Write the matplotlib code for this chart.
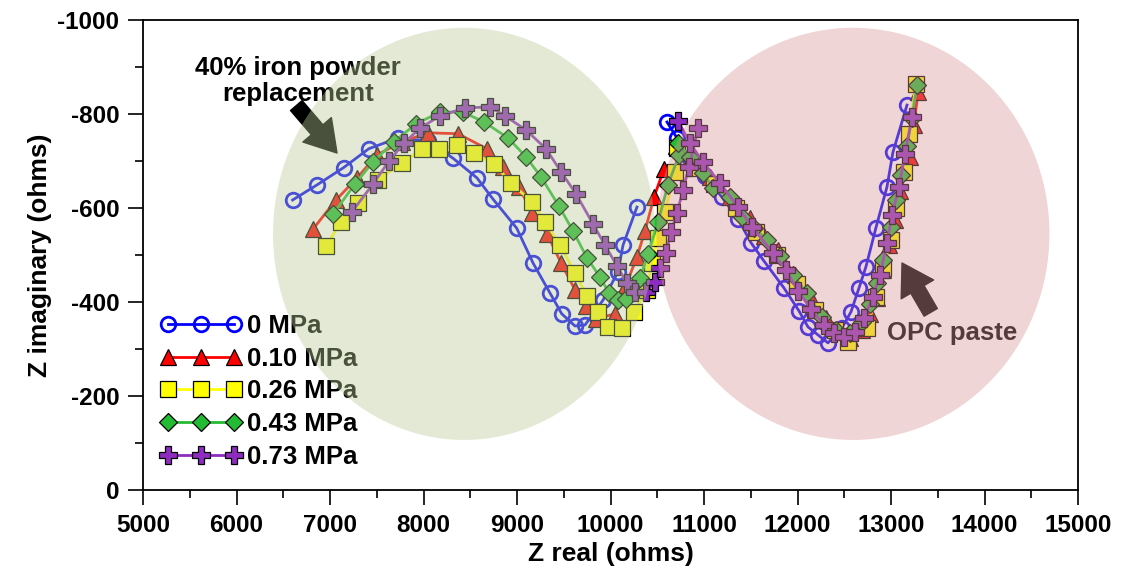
import matplotlib
matplotlib.use('Agg')
import matplotlib.pyplot as plt
from matplotlib.patches import Ellipse

plt.rcParams['font.family'] = ['Liberation Sans', 'DejaVu Sans']
plt.rcParams['font.weight'] = 'bold'
plt.rcParams['axes.unicode_minus'] = False

# ---------------- data (Z real, Z imaginary in ohms) ----------------
labels = ['0 MPa', '0.10 MPa', '0.26 MPa', '0.43 MPa', '0.73 MPa']

# 0 MPa
zr0_a = [6600, 6860, 7146, 7414, 7727, 8048, 8315, 8572, 8743, 8997, 9174, 9353, 9478,
         9620, 9727, 9920, 10080, 10134, 10283]
zi0_a = [-617, -649, -686, -726, -749, -743, -706, -664, -619, -557, -482, -419, -375,
         -349, -351, -404, -464, -521, -602]
zr0_b = [10604, 10711, 10850, 11011, 11192, 11364, 11503, 11642, 11855, 12016, 12112,
         12219, 12326, 12476, 12572, 12658, 12732, 12839, 12957, 13021, 13171]
zi0_b = [-783, -749, -706, -668, -623, -577, -526, -487, -430, -381, -347,
         -330, -313, -345, -379, -430, -475, -558, -645, -719, -819]

# 0.10 MPa
zr1_a = [6818, 7064, 7289, 7503, 7770, 8048, 8369, 8679, 8850, 9021, 9160, 9321, 9471,
         9620, 9738, 9845, 10048, 10166, 10283, 10369, 10465, 10572]
zi1_a = [-555, -617, -664, -713, -741, -760, -758, -726, -687, -645, -589, -545, -483,
         -426, -392, -364, -375, -436, -496, -551, -623, -683]
zr1_b = [10700, 10850, 11064, 11278, 11492, 11642, 11791, 11973, 12155, 12305, 12433,
         12561, 12690, 12775, 12850, 12914, 12978, 13043, 13096, 13203, 13246, 13289]
zi1_b = [-732, -702, -666, -623, -579, -540, -511, -458, -404, -366, -340,
         -323, -340, -375, -409, -468, -521, -575, -636, -709, -777, -847]

# 0.26 MPa
zr2_a = [6957, 7118, 7299, 7513, 7770, 7984, 8166, 8358, 8540, 8754, 8936, 9160, 9299,
         9460, 9620, 9749, 9866, 9973, 10123, 10251, 10390, 10444, 10508, 10583, 10690]
zi2_a = [-519, -570, -611, -660, -696, -726, -726, -734, -717, -694, -653, -613, -570,
         -521, -462, -413, -379, -347, -345, -379, -426, -483, -536, -592, -677]
zr2_b = [10712, 10904, 11107, 11342, 11556, 11781, 11995, 12187, 12401, 12540, 12743,
         12839, 12914, 12999, 13053, 13139, 13192, 13267]
zi2_b = [-728, -685, -651, -600, -549, -500, -438, -383, -340, -315, -345,
         -411, -472, -532, -600, -677, -758, -864]

# 0.43 MPa
zr3_a = [7032, 7267, 7460, 7684, 7920, 8176, 8422, 8647, 8904, 9096, 9257, 9449, 9599,
         9749, 9888, 9984, 10080, 10166, 10315, 10401, 10508, 10615, 10733]
zi3_a = [-587, -651, -698, -741, -779, -804, -804, -783, -749, -709, -666, -604, -551,
         -494, -453, -419, -404, -406, -451, -502, -570, -649, -713]
zr3_b = [10722, 10850, 10989, 11096, 11278, 11406, 11535, 11674, 11813, 11952, 12101,
         12262, 12412, 12561, 12690, 12775, 12850, 12914, 12999, 13053, 13107, 13171,
         13224, 13278]
zi3_b = [-738, -709, -675, -643, -623, -581, -558, -532, -498, -458, -419,
         -368, -340, -334, -358, -396, -440, -489, -560, -617, -670, -732,
         -792, -862]

# 0.73 MPa
zr4_a = [7235, 7460, 7631, 7791, 7963, 8176, 8444, 8711, 8872, 9096, 9310, 9471, 9631,
         9813, 9941, 10069, 10176, 10262, 10380, 10476, 10529, 10593, 10647, 10711,
         10775, 10839, 10936]
zi4_a = [-592, -651, -700, -738, -770, -796, -813, -815, -796, -766, -726, -677, -630,
         -566, -521, -477, -440, -421, -421, -443, -472, -504, -549, -589,
         -638, -687, -770]
zr4_b = [10722, 10850, 10989, 11171, 11364, 11513, 11738, 11877, 12005, 12144, 12283,
         12390, 12497, 12615, 12711, 12807, 12882, 12957, 13011, 13085, 13149, 13224]
zi4_b = [-785, -738, -698, -653, -602, -560, -504, -468, -423, -385, -351,
         -334, -326, -336, -366, -411, -458, -526, -585, -645, -715, -794]

x_ticks = [5000, 6000, 7000, 8000, 9000, 10000, 11000, 12000, 13000, 14000, 15000]
y_ticks = [0, -200, -400, -600, -800, -1000]

series = [
    (zr0_a, zi0_a, zr0_b, zi0_b),
    (zr1_a, zi1_a, zr1_b, zi1_b),
    (zr2_a, zi2_a, zr2_b, zi2_b),
    (zr3_a, zi3_a, zr3_b, zi3_b),
    (zr4_a, zi4_a, zr4_b, zi4_b),
]

styles = [
    dict(color='#0000ff', marker='o', mfc='none', mec='#0000ff', mew=2.0, ms=10.5),
    dict(color='#ff0000', marker='^', mfc='#ff0000', mec='black', mew=0.9, ms=11),
    dict(color='#ffff00', marker='s', mfc='#ffff00', mec='black', mew=0.9, ms=11),
    dict(color='#22bb33', marker='D', mfc='#22bb33', mec='black', mew=0.9, ms=9.5),
    dict(color='#8e2cc0', marker='P', mfc='#8e2cc0', mec='black', mew=0.9, ms=12.5),
]

# ---------------- figure ----------------
fig = plt.figure(figsize=(11.27, 5.72), dpi=100)
ax = fig.add_axes([143 / 1127, 1 - 490 / 572, 935 / 1127, 470 / 572])

handles = []
for (xa, ya, xb, yb), st, lab in zip(series, styles, labels):
    h, = ax.plot(xa, ya, lw=2, label=lab, zorder=2, **st)
    ax.plot(xb, yb, lw=2, zorder=2, **st)
    handles.append(h)

# annotations (drawn under the translucent ellipses)
ax.text(6658, -870, '40% iron powder\nreplacement', ha='center', va='center',
        fontsize=18.5, fontweight='bold', linespacing=1.1, zorder=3)
arrow_style = 'simple,head_length=1.1,head_width=1.35,tail_width=0.55'
ax.annotate('', xy=(7075, -717), xytext=(6640, -818),
            arrowprops=dict(arrowstyle=arrow_style, color='black', mutation_scale=20,
                            shrinkA=0, shrinkB=0), zorder=3)
ax.text(13652, -334, 'OPC paste', ha='center', va='center',
        fontsize=18.5, fontweight='bold', zorder=3)
ax.annotate('', xy=(13118, -483), xytext=(13425, -378),
            arrowprops=dict(arrowstyle=arrow_style, color='black', mutation_scale=20,
                            shrinkA=0, shrinkB=0), zorder=3)

leg = ax.legend(handles=handles, loc='lower left', bbox_to_anchor=(0.018, 0.045),
                frameon=False, numpoints=3, handlelength=3.2, handletextpad=0.2,
                labelspacing=0.34, borderpad=0, borderaxespad=0,
                prop=dict(size=18.5, weight='bold'))
leg.set_zorder(4)

# translucent ellipses overlaid on everything
ax.add_patch(Ellipse((8433, -545), 4085, 877, facecolor=(185/255, 202/255, 148/255),
                     edgecolor='none', alpha=0.4, zorder=6))
ax.add_patch(Ellipse((12593, -545), 4203, 877, facecolor=(215/255, 150/255, 150/255),
                     edgecolor='none', alpha=0.4, zorder=6))

ax.set_xlim(5000, 15000)
ax.set_ylim(0, -1000)
ax.set_xticks(x_ticks)
ax.set_yticks(y_ticks)
ax.set_xticks(range(5500, 15000, 1000), minor=True)
ax.set_yticks(range(-100, -1000, -200), minor=True)
ax.tick_params(which='major', direction='out', length=11, width=1.2, labelsize=17.5, pad=6)
ax.tick_params(which='minor', direction='out', length=5.5, width=1.2)
for lbl in ax.get_xticklabels() + ax.get_yticklabels():
    lbl.set_fontweight('bold')
for sp in ax.spines.values():
    sp.set_linewidth(1.3)

ax.set_xlabel('Z real (ohms)', fontsize=19, fontweight='bold', labelpad=4)
ax.set_ylabel('Z imaginary (ohms)', fontsize=19, fontweight='bold', labelpad=4)

fig.savefig('out.png', dpi=100)
